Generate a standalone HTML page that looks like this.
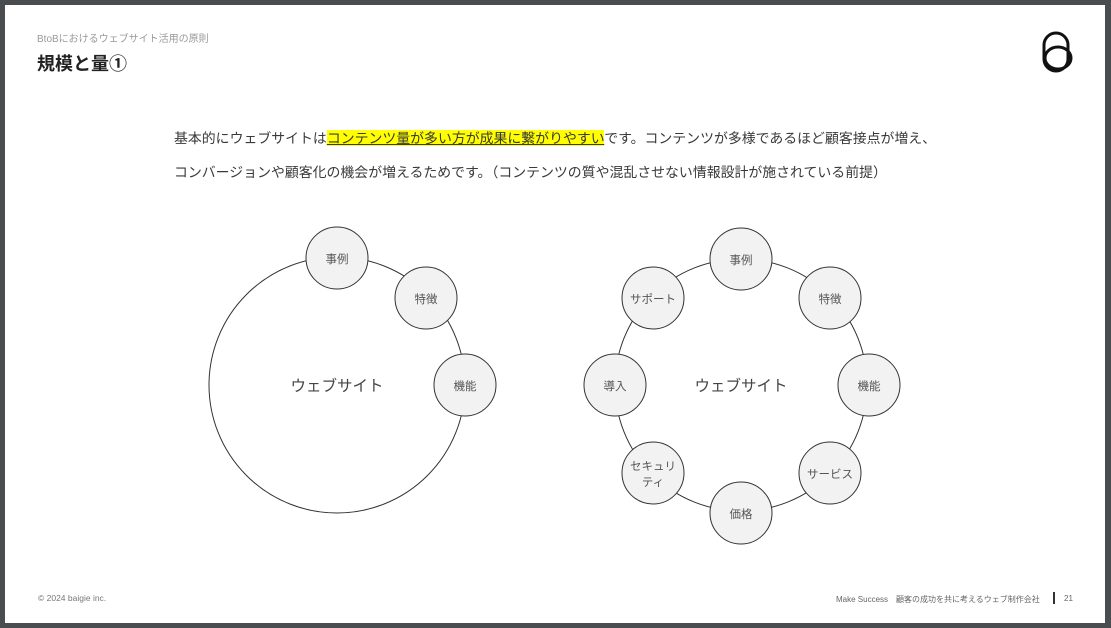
<!DOCTYPE html>
<html><head><meta charset="utf-8"><style>
html,body{margin:0;padding:0;width:1111px;height:628px;overflow:hidden;background:#4a4d50;}
body{font-family:"Liberation Sans","Noto Sans CJK JP",sans-serif;position:relative;}
.page{position:absolute;left:5px;top:5px;width:1100px;height:618px;background:#fff;}
.t{position:absolute;white-space:nowrap;}
.hl{background:#ffff00;text-decoration:underline;}
</style></head><body>
<div class="page"></div>
<div class="t" style="left:37px;top:30px;font-size:10px;color:#999;">BtoBにおけるウェブサイト活用の原則</div>
<div class="t" style="left:37px;top:50px;font-size:18px;font-weight:bold;color:#222;">規模と量①</div>
<svg style="position:absolute;left:1038px;top:30px" width="40" height="46" viewBox="0 0 40 46">
<g fill="none" stroke="#111" stroke-width="3">
<rect x="6" y="3" width="24" height="38" rx="12"/>
<ellipse cx="20" cy="28" rx="13" ry="11"/>
</g></svg>
<div class="t" style="left:174px;top:128px;font-size:13.9px;color:#3a3a3a;">基本的にウェブサイトは<span class="hl">コンテンツ量が多い方が成果に繋がりやすい</span>です。コンテンツが多様であるほど顧客接点が増え、</div>
<div class="t" style="left:174px;top:162px;font-size:13.9px;color:#3a3a3a;">コンバージョンや顧客化の機会が増えるためです。（コンテンツの質や混乱させない情報設計が施されている前提）</div>
<svg style="position:absolute;left:0;top:0" width="1111" height="628" font-family="Liberation Sans, Noto Sans CJK JP, sans-serif">
<g fill="none" stroke="#333" stroke-width="1">
<circle cx="337" cy="385" r="128"/>
<circle cx="741" cy="385" r="126"/>
</g>
<g fill="#f2f2f2" stroke="#333" stroke-width="1">
<circle cx="337" cy="258" r="31"/>
<circle cx="426" cy="298" r="31"/>
<circle cx="465" cy="385" r="31"/>
<circle cx="741" cy="259" r="31"/>
<circle cx="830" cy="298" r="31"/>
<circle cx="869" cy="385" r="31"/>
<circle cx="830" cy="473" r="31"/>
<circle cx="741" cy="513" r="31"/>
<circle cx="653" cy="473" r="31"/>
<circle cx="615" cy="385" r="31"/>
<circle cx="653" cy="298" r="31"/>
</g>
<g font-size="11.5" fill="#555" text-anchor="middle">
<text x="337" y="263">事例</text>
<text x="426" y="303">特徴</text>
<text x="465" y="390">機能</text>
<text x="741" y="264">事例</text>
<text x="830" y="303">特徴</text>
<text x="869" y="390">機能</text>
<text x="830" y="478">サービス</text>
<text x="741" y="518">価格</text>
<text x="653" y="470">セキュリ</text>
<text x="653" y="486">ティ</text>
<text x="615" y="390">導入</text>
<text x="653" y="303">サポート</text>
</g>
<g font-size="15.5" fill="#444" text-anchor="middle">
<text x="337" y="391">ウェブサイト</text>
<text x="741" y="391">ウェブサイト</text>
</g>
<line x1="1054" y1="592" x2="1054" y2="604" stroke="#333" stroke-width="2"/>
</svg>
<div class="t" style="left:38px;top:593px;font-size:8.5px;color:#777;">© 2024 baigie inc.</div>
<div class="t" style="left:836px;top:594px;font-size:8px;color:#666;">Make Success　顧客の成功を共に考えるウェブ制作会社</div>
<div class="t" style="left:1064px;top:594px;font-size:8px;color:#666;">21</div>
</body></html>
